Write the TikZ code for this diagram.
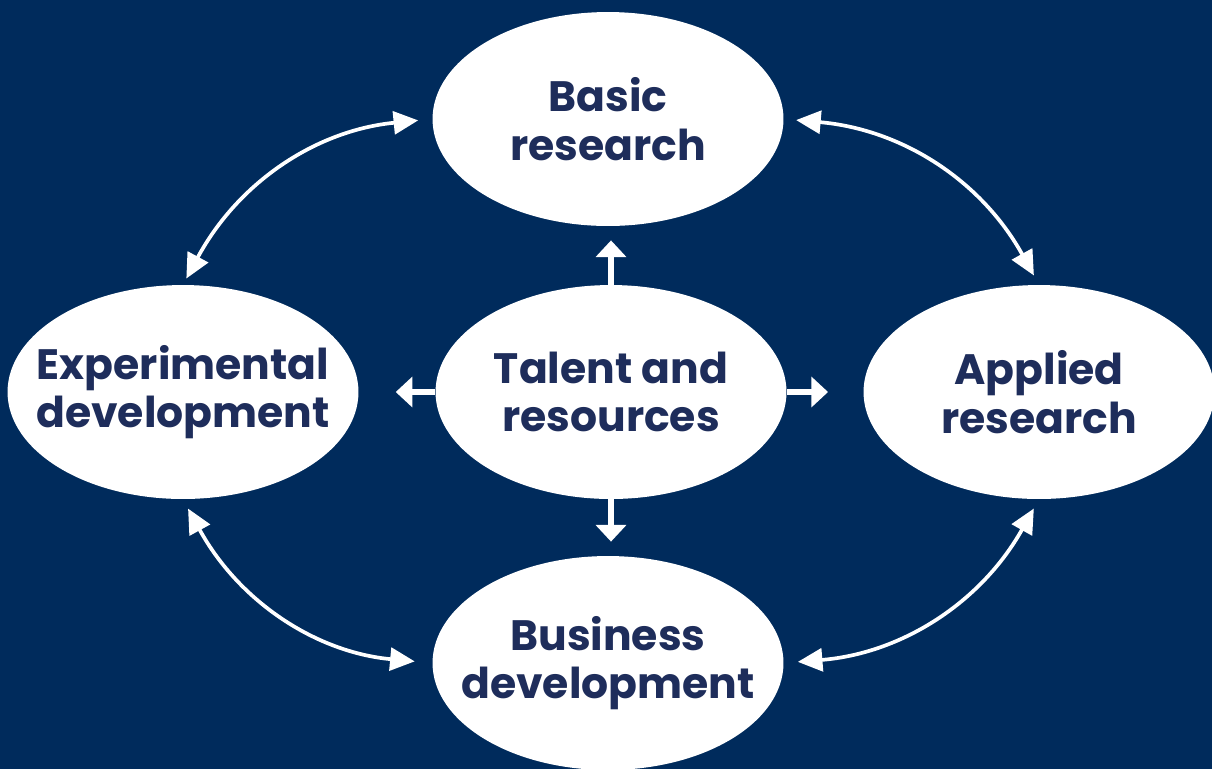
\documentclass[tikz,border=0pt]{standalone}
\usepackage{fontspec}
\setmainfont{Poppins}
\usetikzlibrary{shapes.geometric,arrows.meta}
\definecolor{navy}{HTML}{002B5C}
\definecolor{inkblue}{HTML}{1E2D5B}
\tikzset{
  blob/.style={ellipse, fill=white, inner xsep=-3cm, inner ysep=-2cm, minimum width=7.02cm, minimum height=4.28cm,
    text=inkblue, align=center, font=\fontsize{24.2}{27.5}\selectfont\bfseries},
  loop/.style={white, line width=2.1pt, {Triangle[length=14pt,width=13pt]}-{Triangle[length=14pt,width=13pt]}},
  spoke/.style={white, line width=3.4pt, -{Triangle[length=9.5pt,width=17pt]}}
}
\begin{document}
\begin{tikzpicture}[x=0.02cm, y=-0.02cm]
 \fill[navy] (0,0) rectangle (1212,769);
 \useasboundingbox (0,0) rectangle (1212,769);

 %ellipses
 \node[blob] (basic)    at (608,119) {Basic\\research};
 \node[blob] (talent)   at (611,392) {Talent and\\resources};
 \node[blob] (exp)      at (183,392) {Experimental\\development};
 \node[blob] (applied)  at (1039,392) {Applied\\research};
 \node[blob] (business) at (608,663) {Business\\development};

 %outer ring
 \draw[loop, shorten <=8pt, shorten >=4pt] (basic.west) to[bend right=28] (exp.north);
 \draw[loop, shorten <=7pt, shorten >=6pt] (basic.east) to[bend left=28] (applied.north);
 \draw[loop, shorten <=6pt, shorten >=10pt] (exp.south) to[bend right=28] (business.west);
 \draw[loop, shorten <=6pt, shorten >=8pt] (applied.south) to[bend left=28] (business.east);

 %spokes
 \foreach \from/\to in {north/basic.south, south/business.north} {
   \draw[spoke, shorten >=8pt] (talent.\from) -- (talent.\from |- \to);
 }
 \foreach \from/\to/\gap in {west/exp.east/21pt, east/applied.west/20pt} {
   \draw[spoke, shorten >=\gap] (talent.\from) -- (\to |- talent.\from);
 }
\end{tikzpicture}
\end{document}
